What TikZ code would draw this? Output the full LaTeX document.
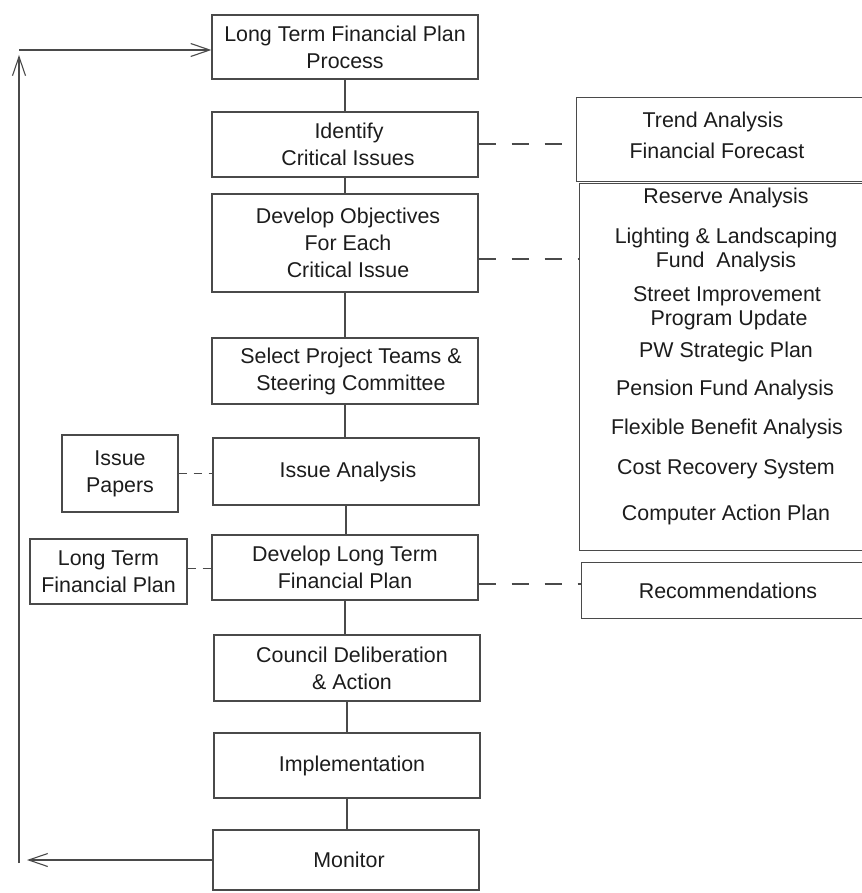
\documentclass[tikz,border=0pt]{standalone}
\usepackage{fontspec}
\setmainfont{Liberation Sans}
\usetikzlibrary{arrows.meta,calc}
\definecolor{ln}{HTML}{4A4A4A}
\definecolor{tx}{HTML}{1C1C1C}
\begin{document}
\begin{tikzpicture}[x=1pt,y=-1pt,
  every node/.style={text=tx,font={\fontsize{21.4}{27}\selectfont}},
  mainbox/.style={draw=ln,line width=1.2pt,minimum width=266pt,inner sep=0pt,align=center},
  openbox/.style={inner sep=0pt,align=center},
  sidebox/.style={draw=ln,line width=1.2pt,inner sep=0pt,align=center},
  edge3/.style={draw=ln,line width=1.2pt},
  plain/.style={inner sep=0pt},
  conn/.style={draw=ln,line width=1.1pt},
  dashconn/.style={draw=ln,line width=1.1pt,dash pattern=on 17pt off 16pt},
  shortdash/.style={draw=ln,line width=1.1pt,dash pattern=on 8pt off 7pt},
  barb/.style={draw=ln,line width=1.1pt,-{Straight Barb[length=19pt,width=13pt,line width=1.1pt]}}
]
\useasboundingbox (0,0) rectangle (861,893);

% main column
\node[mainbox,minimum height=64pt] (p1) at (345,47) {Long Term Financial Plan\\Process};
\node[mainbox,minimum height=65pt] (p2) at (345,144.5) {\hspace*{8pt}Identify\\\hspace*{6pt}Critical Issues};
\node[mainbox,minimum height=98pt] (p3) at (345,243) {\hspace*{6pt}Develop Objectives\\\hspace*{6pt}For Each\\\hspace*{6pt}Critical Issue};
\node[mainbox,minimum height=66pt] (p4) at (345,371) {\hspace*{12pt}Select Project Teams \&\\\hspace*{12pt}Steering Committee};
\node[mainbox,minimum height=67pt] (p5) at (346,471.5) {\hspace*{4pt}Issue Analysis};
\node[mainbox,minimum height=65pt] (p6) at (345,567.5) {Develop Long Term\\Financial Plan};
\node[mainbox,minimum height=66pt] (p7) at (347,668) {\hspace*{10pt}Council Deliberation\\\hspace*{10pt}\& Action};
\node[mainbox,minimum height=65pt] (p8) at (347,765.5) {\hspace*{10pt}Implementation};
\node[mainbox,minimum height=60pt] (p9) at (346,860) {\hspace*{6pt}Monitor};

\foreach \a/\b in {p1/p2,p2/p3,p3/p4,p4/p5,p5/p6,p6/p7,p7/p8,p8/p9}
  \draw[conn] (\a.south) -- (\a.south |- \b.north);

% right boxes (their right side runs off the page)
\node[openbox,minimum width=289pt,minimum height=83pt] (trend) at (721.5,139.5) {};
\node[plain] (trend1) at (713,122) {Trend Analysis};
\node[plain] (trend2) at (717,151) {Financial Forecast};

\node[openbox,minimum width=286pt,minimum height=366pt] (big) at (723,367) {};
\node[plain] (b1) at (726,198) {Reserve Analysis};
\node[plain] (b2) at (726,238) {Lighting \& Landscaping};
\node[plain] (b3) at (726,262) {Fund\ \ Analysis};
\node[plain] (b4) at (727,296) {Street Improvement};
\node[plain] (b5) at (729,320) {Program Update};
\node[plain] (b6) at (726,352) {PW Strategic Plan};
\node[plain] (b7) at (725,390) {Pension Fund Analysis};
\node[plain] (b8) at (727,429) {Flexible Benefit Analysis};
\node[plain] (b9) at (726,469) {Cost Recovery System};
\node[plain] (b10) at (726,515) {Computer Action Plan};

\node[openbox,minimum width=284pt,minimum height=55pt] (rec) at (724,590.5) {\hspace*{8pt}Recommendations};

\foreach \n in {trend,big,rec}
  \draw[edge3] (\n.north east) -- (\n.north west) -- (\n.south west) -- (\n.south east);

% left boxes
\node[sidebox,minimum width=116pt,minimum height=77pt] (ip) at (120,473.5) {Issue\\Papers};
\node[sidebox,minimum width=157pt,minimum height=65pt] (lt) at (108.5,571.5) {Long Term\\Financial Plan};

% dashed links
\draw[dashconn] ($(p2.east)+(0,-0.5)$) -- ($(p2.east -| trend.west)+(0,-0.5)$);
\draw[dashconn] ($(p3.east)+(0,16)$) -- ($(p3.east -| big.west)+(0,16)$);
\draw[dashconn] ($(p6.east)+(0,16.5)$) -- ($(p6.east -| rec.west)+(0,16.5)$);
\draw[shortdash] (ip.east) -- (ip.east -| p5.west);
\draw[shortdash] ($(lt.east)+(0,-3)$) -- ($(lt.east -| p6.west)+(0,-3)$);

% feedback loop
\coordinate (ctop) at (19,50);
\coordinate (ctip) at (19,55);
\coordinate (cbot) at (19,863);
\coordinate (cend) at (27,860);
\draw[barb] (cbot) -- (ctip);
\draw[barb] (ctop) -- (ctop -| p1.west);
\draw[barb] (p9.west) -- (cend);
\end{tikzpicture}
\end{document}
